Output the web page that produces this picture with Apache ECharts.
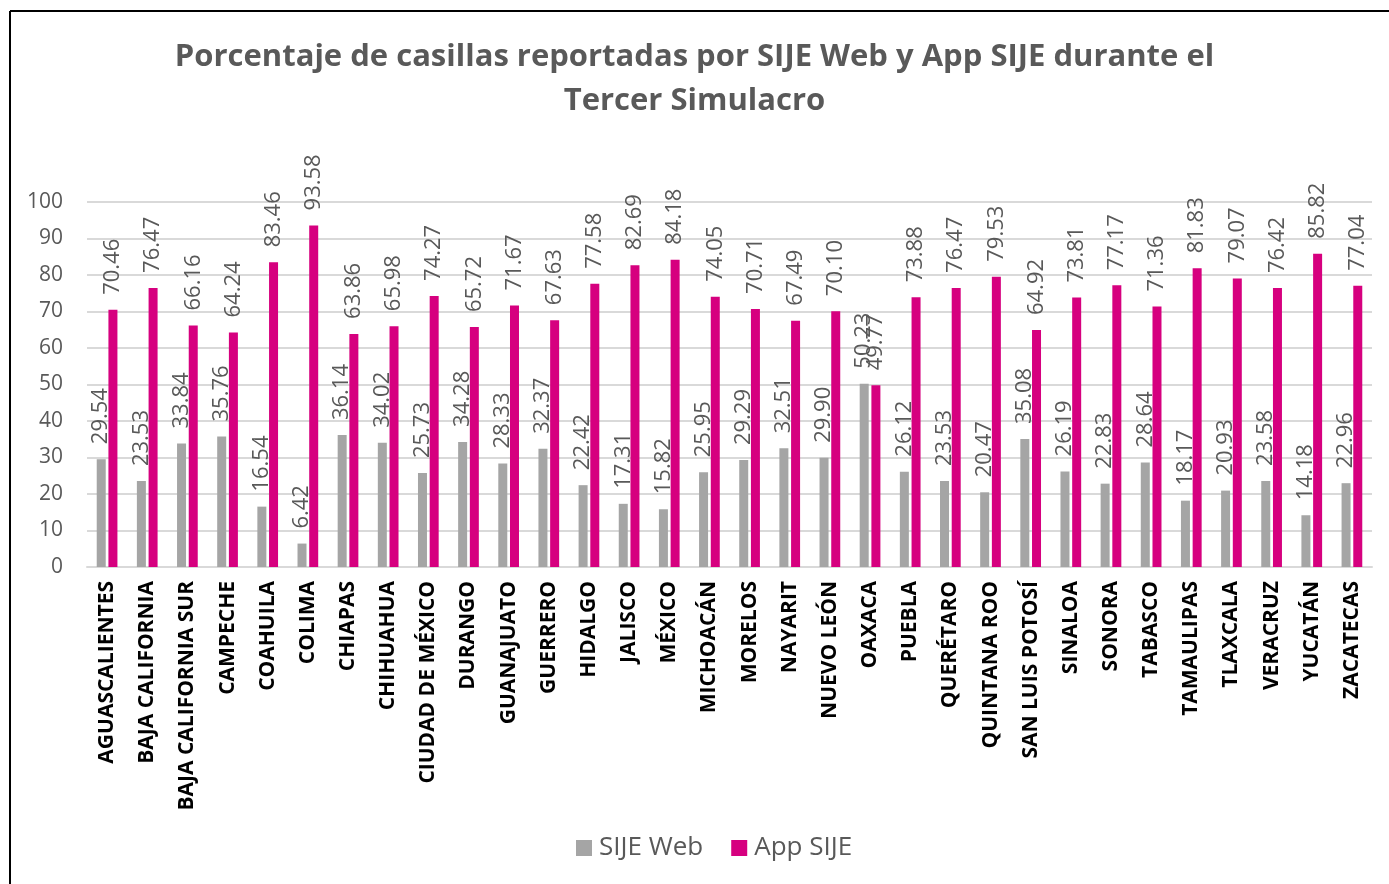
<!DOCTYPE html>
<html lang="es" style="height: 100%">
<head>
  <meta charset="utf-8">
</head>
<body style="height: 100%; margin: 0">
  <div id="container" style="width: 1389px; height: 884px"></div>

  <script type="text/javascript" src="https://fastly.jsdelivr.net/npm/echarts@6/dist/echarts.min.js"></script>
  <script type="text/javascript">
    var estados = ['AGUASCALIENTES', 'BAJA CALIFORNIA', 'BAJA CALIFORNIA SUR', 'CAMPECHE', 'COAHUILA',
      'COLIMA', 'CHIAPAS', 'CHIHUAHUA', 'CIUDAD DE MÉXICO', 'DURANGO', 'GUANAJUATO', 'GUERRERO',
      'HIDALGO', 'JALISCO', 'MÉXICO', 'MICHOACÁN', 'MORELOS', 'NAYARIT', 'NUEVO LEÓN', 'OAXACA',
      'PUEBLA', 'QUERÉTARO', 'QUINTANA ROO', 'SAN LUIS POTOSÍ', 'SINALOA', 'SONORA', 'TABASCO',
      'TAMAULIPAS', 'TLAXCALA', 'VERACRUZ', 'YUCATÁN', 'ZACATECAS'];
    var sijeWeb = [29.54, 23.53, 33.84, 35.76, 16.54, 6.42, 36.14, 34.02, 25.73, 34.28, 28.33, 32.37,
      22.42, 17.31, 15.82, 25.95, 29.29, 32.51, 29.90, 50.23, 26.12, 23.53, 20.47, 35.08, 26.19, 22.83,
      28.64, 18.17, 20.93, 23.58, 14.18, 22.96];
    var appSije = [70.46, 76.47, 66.16, 64.24, 83.46, 93.58, 63.86, 65.98, 74.27, 65.72, 71.67, 67.63,
      77.58, 82.69, 84.18, 74.05, 70.71, 67.49, 70.10, 49.77, 73.88, 76.47, 79.53, 64.92, 73.81, 77.17,
      71.36, 81.83, 79.07, 76.42, 85.82, 77.04];

    var dom = document.getElementById('container');
    var myChart = echarts.init(dom, null, { renderer: 'canvas' });

    var font = '"Open Sans", "Noto Sans", sans-serif';
    var barLabel = {
      show: true,
      position: 'top',
      rotate: 90,
      align: 'left',
      verticalAlign: 'middle',
      distance: 15,
      fontFamily: font,
      fontSize: 22,
      color: '#595959',
      formatter: function (p) { return p.value.toFixed(2); }
    };

    var option = {
      textStyle: { fontFamily: font },
      title: {
        text: 'Porcentaje de casillas reportadas por SIJE Web y App SIJE durante el\nTercer Simulacro',
        left: 'center',
        top: 30,
        textStyle: {
          fontFamily: font,
          fontSize: 31,
          fontWeight: 'bold',
          color: '#595959',
          lineHeight: 44
        }
      },
      legend: {
        bottom: 18,
        left: 571,
        itemWidth: 16,
        itemHeight: 16,
        itemGap: 28,
        icon: 'rect',
        textStyle: { fontFamily: font, fontSize: 26, color: '#595959', padding: [0, 0, 0, 2] },
        data: ['SIJE Web', 'App SIJE']
      },
      grid: {
        left: 87,
        right: 17,
        top: 202,
        bottom: 317,
        containLabel: false
      },
      xAxis: {
        type: 'category',
        data: estados,
        axisLine: { lineStyle: { color: '#d9d9d9', width: 2 } },
        axisTick: { show: false },
        axisLabel: {
          rotate: 90,
          interval: 0,
          margin: 14,
          fontFamily: font,
          fontSize: 21,
          fontWeight: 'bold',
          color: '#000'
        }
      },
      yAxis: {
        type: 'value',
        min: 0,
        max: 100,
        interval: 10,
        axisLine: { show: false },
        axisTick: { show: false },
        splitLine: { lineStyle: { color: '#d9d9d9', width: 2 } },
        axisLabel: {
          margin: 24,
          fontFamily: font,
          fontSize: 21,
          color: '#595959'
        }
      },
      graphic: [
        { type: 'line', shape: { x1: 10, y1: 11, x2: 1389, y2: 11 }, style: { stroke: '#000', lineWidth: 2 } },
        { type: 'line', shape: { x1: 10, y1: 11, x2: 10, y2: 884 }, style: { stroke: '#000', lineWidth: 2 } }
      ],
      series: [
        {
          name: 'SIJE Web',
          type: 'bar',
          data: sijeWeb,
          barWidth: 9,
          barGap: '30%',
          itemStyle: { color: '#a5a5a5' },
          label: barLabel
        },
        {
          name: 'App SIJE',
          type: 'bar',
          data: appSije,
          barWidth: 9,
          itemStyle: { color: '#d6007f' },
          label: barLabel
        }
      ]
    };

    myChart.setOption(option);
    window.addEventListener('resize', myChart.resize);
  </script>
</body>
</html>
